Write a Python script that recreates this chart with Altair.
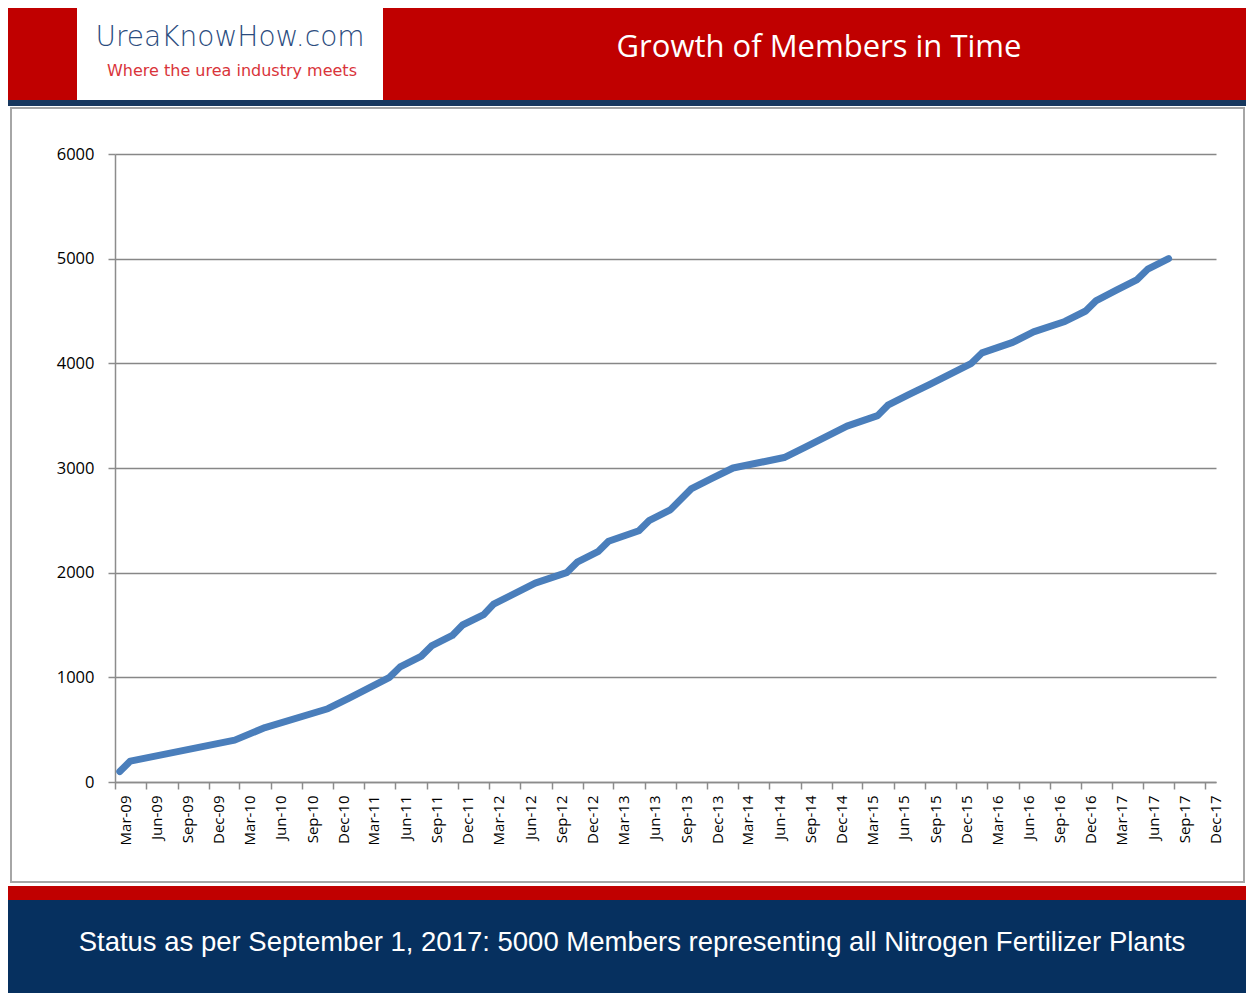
import altair as alt
import pandas as pd

# ---- data ----
months = ["2009-03-15", "2009-04-15", "2010-02-15", "2010-05-15", "2010-11-15",
          "2011-01-15", "2011-05-15", "2011-06-15", "2011-08-15", "2011-09-15",
          "2011-11-15", "2011-12-15", "2012-02-15", "2012-03-15", "2012-07-15",
          "2012-10-15", "2012-11-15", "2013-01-15", "2013-02-15", "2013-05-15",
          "2013-06-15", "2013-08-15", "2013-10-15", "2013-12-15", "2014-02-15",
          "2014-07-15", "2014-09-15", "2015-01-15", "2015-04-15", "2015-05-15",
          "2015-07-15", "2015-09-15", "2015-11-15", "2016-01-15", "2016-02-15",
          "2016-05-15", "2016-07-15", "2016-10-15", "2016-12-15", "2017-01-15",
          "2017-03-15", "2017-05-15", "2017-06-15", "2017-08-15"]
members = [100, 200, 400, 520, 700,
           800, 1000, 1100, 1200, 1300,
           1400, 1500, 1600, 1700, 1900,
           2000, 2100, 2200, 2300, 2400,
           2500, 2600, 2800, 2900, 3000,
           3100, 3200, 3400, 3500, 3600,
           3700, 3800, 3900, 4000, 4100,
           4200, 4300, 4400, 4500, 4600,
           4700, 4800, 4900, 5000]

tick_years = [2009, 2010, 2011, 2012, 2013, 2014, 2015, 2016, 2017]
tick_months = [3, 6, 9, 12]
y_ticks = [0, 1000, 2000, 3000, 4000, 5000, 6000]

title_text = "Growth of Members in Time"
logo_text = "UreaKnowHow.com"
logo_sub = "Where the urea industry meets"
footer_text = "Status as per September 1, 2017: 5000 Members representing all Nitrogen Fertilizer Plants"

df = pd.DataFrame({"date": months, "members": members})
x_ticks = [alt.DateTime(year=y, month=m, date=1) for y in tick_years for m in tick_months]

RED = "#c00000"
NAVY = "#06305f"
one = alt.Data(values=[{"k": 1}])


def box(x, x2, y, y2, **kw):
    return alt.Chart(one).mark_rect(**kw).encode(
        x=alt.value(x), x2=alt.value(x2), y=alt.value(y), y2=alt.value(y2))


def label(x, y, text, **kw):
    return alt.Chart(one).mark_text(text=text, align="center", baseline="middle", **kw).encode(
        x=alt.value(x), y=alt.value(y))


header = box(-110, 1140, -150, -54, color=RED)
header_line = box(-110, 1140, -54, -48, color="#17375e")
logo_box = box(-38, 268, -150, -54, color="white")
border = box(-104, 1129, -46, 728, fillOpacity=0, stroke="#a6a6a6", strokeWidth=2)
stripe = box(-110, 1140, 732, 746, color=RED)
band = box(-110, 1140, 746, 860, color=NAVY)

t_logo = label(115, -116, logo_text, font="DejaVu Sans", fontSize=28, fontWeight=200, color="#2b4c7e")
t_sub = label(117, -83, logo_sub, font="DejaVu Sans", fontSize=16, color="#d9343a")
t_title = label(704, -106, title_text, font="Open Sans", fontSize=31, color="white")
t_footer = label(517, 789, footer_text, font="Liberation Sans", fontSize=27.5, color="white")

line = alt.Chart(df).mark_line(
    color="#4a7ebb", strokeWidth=7, strokeCap="round", strokeJoin="round"
).encode(
    x=alt.X("date:T",
            scale=alt.Scale(domain=[alt.DateTime(year=2009, month=3, date=1),
                                    alt.DateTime(year=2018, month=1, date=1)]),
            axis=alt.Axis(values=x_ticks, format="%b-%y", labelAngle=270,
                          labelAlign="right", labelBaseline="middle", labelOffset=10,
                          labelPadding=6, tickSize=7, tickColor="#8c8c8c", tickWidth=1.5,
                          domainColor="#8c8c8c", domainWidth=1.5, grid=False,
                          labelFont="Open Sans", labelFontSize=15, labelColor="#000000",
                          title=None)),
    y=alt.Y("members:Q",
            scale=alt.Scale(domain=[0, 6000], nice=False),
            axis=alt.Axis(values=y_ticks, format="d", grid=True, gridColor="#878787", gridWidth=1.5,
                          domainColor="#8c8c8c", domainWidth=1.5, tickSize=7,
                          tickColor="#8c8c8c", tickWidth=1.5, labelPadding=14,
                          labelFont="Open Sans", labelFontSize=16.5, labelColor="#000000",
                          title=None)),
)

chart = alt.layer(
    header, header_line, logo_box, border, stripe, band,
    t_logo, t_sub, t_title, t_footer, line
).properties(
    width=1101, height=628,
    padding={"left": 107, "top": 146, "right": 30, "bottom": 211},
    autosize=alt.AutoSizeParams(type="none"),
    background="white",
).configure_view(strokeWidth=0)

chart.save("out.html", embed_options={"renderer": "svg", "actions": False})
